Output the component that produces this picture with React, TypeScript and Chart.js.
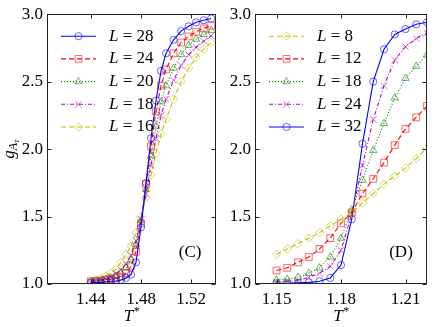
import React, { useEffect, useRef } from 'react';
import { Chart, registerables } from 'chart.js';
import { drawPoint } from 'chart.js/helpers';
Chart.register(...registerables);

// ---------- data ----------
const tC = [1.440, 1.444, 1.448, 1.452, 1.456, 1.460, 1.464, 1.468, 1.472, 1.476, 1.480, 1.484, 1.488, 1.492, 1.496, 1.500, 1.506, 1.512, 1.518, 1.524, 1.530, 1.536];
const gC28 = [1.01, 1.01, 1.012, 1.015, 1.018, 1.022, 1.03, 1.045, 1.07, 1.16, 1.42, 1.75, 2.08, 2.36, 2.58, 2.71, 2.81, 2.875, 2.91, 2.94, 2.955, 2.968];
const gC24 = [1.02, 1.022, 1.025, 1.03, 1.035, 1.042, 1.055, 1.08, 1.13, 1.24, 1.45, 1.74, 2.02, 2.28, 2.47, 2.59, 2.71, 2.79, 2.835, 2.87, 2.895, 2.915];
const gC20 = [1.015, 1.02, 1.025, 1.035, 1.045, 1.06, 1.085, 1.12, 1.18, 1.29, 1.47, 1.70, 1.95, 2.17, 2.35, 2.47, 2.60, 2.70, 2.77, 2.815, 2.85, 2.88];
const gC18 = [1.015, 1.02, 1.03, 1.04, 1.055, 1.075, 1.105, 1.15, 1.21, 1.32, 1.48, 1.67, 1.88, 2.08, 2.25, 2.37, 2.51, 2.62, 2.70, 2.755, 2.80, 2.84];
const gC16 = [1.02, 1.03, 1.04, 1.06, 1.08, 1.11, 1.16, 1.22, 1.28, 1.38, 1.50, 1.64, 1.81, 1.97, 2.11, 2.22, 2.37, 2.50, 2.60, 2.68, 2.74, 2.79];

const tD = [1.150, 1.155, 1.160, 1.165, 1.170, 1.175, 1.180, 1.185, 1.190, 1.195, 1.200, 1.205, 1.210, 1.215, 1.220];
const gD8 = [1.22, 1.26, 1.30, 1.34, 1.38, 1.43, 1.48, 1.53, 1.60, 1.67, 1.74, 1.80, 1.86, 1.93, 2.01];
const gD12 = [1.10, 1.12, 1.16, 1.20, 1.26, 1.34, 1.45, 1.53, 1.67, 1.78, 1.90, 2.03, 2.15, 2.235, 2.32];
const gD18 = [1.03, 1.035, 1.05, 1.08, 1.12, 1.20, 1.34, 1.55, 1.77, 1.99, 2.19, 2.38, 2.525, 2.615, 2.70];
const gD24 = [1.015, 1.02, 1.025, 1.05, 1.08, 1.13, 1.25, 1.52, 1.88, 2.22, 2.47, 2.66, 2.76, 2.82, 2.86];
const gD32 = [1.005, 1.005, 1.008, 1.012, 1.02, 1.045, 1.14, 1.48, 2.04, 2.50, 2.74, 2.85, 2.89, 2.925, 2.94];

const xTicksC = [1.44, 1.48, 1.52];
const xTicksD = [1.15, 1.18, 1.21];
const yTicks = [1.0, 1.5, 2.0, 2.5, 3.0];
const labelsC = ['28', '24', '20', '18', '16'];
const labelsD = ['8', '12', '18', '24', '32'];

// ---------- styles ----------
const FONT = '"Liberation Serif", "DejaVu Serif", serif';
const FS = 17;
const styles: Record<string, any> = {
  blue: { color: '#0000ff', mk: 'rgba(0,0,255,0.6)', dash: [], style: 'circle', r: 3.6 },
  red: { color: '#ff0000', mk: 'rgba(255,0,0,0.6)', dash: [5, 3], style: 'rect', r: 4.8 },
  green: { color: '#008000', mk: 'rgba(0,128,0,0.6)', dash: [1, 2], style: 'triangle', r: 4.2 },
  magenta: { color: '#bf00bf', mk: 'rgba(191,0,191,0.6)', dash: [4, 2, 1, 2], style: 'crossRot', r: 4.6 },
  yellow: { color: '#bfbf00', mk: 'rgba(191,191,0,0.6)', dash: [5, 3], style: 'rectRot', r: 4.2 },
};

function ds(label: string, t: number[], g: number[], key: string) {
  const s = styles[key];
  return {
    label,
    data: t.map((x, i) => ({ x, y: g[i] })),
    borderColor: s.color,
    borderWidth: 1.1,
    borderDash: s.dash,
    pointStyle: s.style,
    pointRadius: s.r,
    pointBorderColor: s.mk,
    pointBackgroundColor: 'rgba(0,0,0,0)',
    pointBorderWidth: 1,
    tension: 0,
    fill: false,
  };
}

const framePlugin = {
  id: 'frame',
  afterDatasetsDraw(chart: any, _args: any, opts: any) {
    const ctx = chart.ctx as CanvasRenderingContext2D;
    const a = chart.chartArea;
    const xs = chart.scales.x;
    const ys = chart.scales.y;
    ctx.save();
    // frame
    ctx.strokeStyle = '#222';
    ctx.lineWidth = 1;
    ctx.setLineDash([]);
    const L = Math.round(a.left) + 0.5, R = Math.round(a.right) - 0.5;
    const T = Math.round(a.top) + 0.5, B = Math.round(a.bottom) - 0.5;
    ctx.strokeRect(L, T, R - L, B - T);
    // inward ticks
    ctx.beginPath();
    for (const v of opts.xTicks) {
      const px = Math.round(xs.getPixelForValue(v)) + 0.5;
      ctx.moveTo(px, B); ctx.lineTo(px, B - 4);
      ctx.moveTo(px, T); ctx.lineTo(px, T + 4);
    }
    for (const v of yTicks) {
      const py = Math.round(ys.getPixelForValue(v)) + 0.5;
      ctx.moveTo(L, py); ctx.lineTo(L + 4, py);
      ctx.moveTo(R, py); ctx.lineTo(R - 4, py);
    }
    ctx.stroke();

    // legend
    ctx.fillStyle = '#000';
    ctx.textBaseline = 'middle';
    chart.data.datasets.forEach((d: any, i: number) => {
      const y = a.top + 22 + i * 22.7;
      const x0 = a.left + 14, x1 = a.left + 49;
      ctx.strokeStyle = d.borderColor;
      ctx.lineWidth = d.borderWidth;
      ctx.setLineDash(d.borderDash);
      ctx.beginPath(); ctx.moveTo(x0, y); ctx.lineTo(x1, y); ctx.stroke();
      ctx.setLineDash([]);
      ctx.strokeStyle = d.pointBorderColor;
      ctx.fillStyle = 'rgba(0,0,0,0)';
      ctx.lineWidth = 1;
      drawPoint(ctx, { pointStyle: d.pointStyle, radius: d.pointRadius, borderWidth: 1, rotation: 0 } as any, (x0 + x1) / 2, y);
      ctx.fillStyle = '#000';
      let tx = a.left + 62;
      ctx.font = `italic ${FS}px ${FONT}`;
      ctx.textAlign = 'left';
      ctx.fillText('L', tx, y);
      tx += ctx.measureText('L').width;
      ctx.font = `${FS}px ${FONT}`;
      ctx.fillText(' = ' + d.label, tx, y);
    });

    // panel letter
    ctx.font = `${FS}px ${FONT}`;
    ctx.textAlign = 'center';
    ctx.textBaseline = 'middle';
    ctx.fillText(opts.letter, a.right - 26, a.bottom - 31);

    // x title T*
    const cx = (a.left + a.right) / 2;
    ctx.textAlign = 'left';
    ctx.textBaseline = 'alphabetic';
    ctx.font = `italic ${FS}px ${FONT}`;
    const wT = ctx.measureText('T').width;
    ctx.font = `${12}px ${FONT}`;
    const wS = ctx.measureText('*').width;
    const sx = cx - (wT + wS) / 2;
    ctx.font = `italic ${FS}px ${FONT}`;
    ctx.fillText('T', sx, 321);
    ctx.font = `${12}px ${FONT}`;
    ctx.fillText('*', sx + wT + 0.5, 315);

    // y title
    if (opts.yTitle) {
      ctx.save();
      ctx.translate(14, (a.top + a.bottom) / 2);
      ctx.rotate(-Math.PI / 2);
      ctx.font = `italic ${FS}px ${FONT}`;
      const wg = ctx.measureText('g').width;
      ctx.font = `italic 12px ${FONT}`;
      const wA = ctx.measureText('A').width;
      ctx.font = `italic 9px ${FONT}`;
      const wt = ctx.measureText('τ').width;
      const tot = wg + wA + wt;
      let px = -tot / 2;
      ctx.font = `italic ${FS}px ${FONT}`;
      ctx.fillText('g', px, 0);
      px += wg;
      ctx.font = `italic 12px ${FONT}`;
      ctx.fillText('A', px, 3);
      px += wA;
      ctx.font = `italic 9px ${FONT}`;
      ctx.fillText('τ', px, 5);
      ctx.restore();
    }
    ctx.restore();
  },
};

function makeConfig(datasets: any[], xmin: number, xmax: number, xTicks: number[], yWidth: number, padRight: number, letter: string, yTitle: boolean): any {
  return {
    type: 'line',
    data: { datasets },
    plugins: [framePlugin],
    options: {
      responsive: false,
      animation: false,
      devicePixelRatio: 1,
      layout: { padding: { left: 0, top: 13, right: padRight, bottom: 0 } },
      plugins: {
        legend: { display: false },
        tooltip: { enabled: false },
        frame: { xTicks, letter, yTitle },
      },
      scales: {
        x: {
          type: 'linear',
          min: xmin,
          max: xmax,
          afterBuildTicks: (s: any) => { s.ticks = xTicks.map((v) => ({ value: v })); },
          afterFit: (s: any) => { s.height = 43; },
          grid: { display: false, drawTicks: false },
          border: { display: false },
          ticks: {
            autoSkip: false,
            maxRotation: 0,
            padding: 5,
            color: '#000',
            font: { family: FONT, size: FS },
            callback: (v: any) => Number(v).toFixed(2),
          },
        },
        y: {
          type: 'linear',
          min: 1.0,
          max: 3.0,
          afterBuildTicks: (s: any) => { s.ticks = yTicks.map((v) => ({ value: v })); },
          afterFit: (s: any) => { s.width = yWidth; },
          grid: { display: false, drawTicks: false },
          border: { display: false },
          ticks: {
            padding: 4,
            color: '#000',
            font: { family: FONT, size: FS },
            callback: (v: any) => Number(v).toFixed(1),
          },
        },
      },
    },
  };
}

function Panel(props: { cfg: any; left: number; width: number }) {
  const ref = useRef<HTMLCanvasElement>(null);
  useEffect(() => {
    const c = new Chart(ref.current as HTMLCanvasElement, props.cfg);
    return () => c.destroy();
  }, []);
  return (
    <canvas
      ref={ref}
      width={props.width}
      height={327}
      style={{ position: 'absolute', left: props.left, top: 0, width: props.width, height: 327 }}
    />
  );
}

export default function App() {
  const cfgC = makeConfig(
    [
      ds(labelsC[0], tC, gC28, 'blue'),
      ds(labelsC[1], tC, gC24, 'red'),
      ds(labelsC[2], tC, gC20, 'green'),
      ds(labelsC[3], tC, gC18, 'magenta'),
      ds(labelsC[4], tC, gC16, 'yellow'),
    ],
    1.405, 1.54, xTicksC, 47, 2, '(C)', true
  );
  const cfgD = makeConfig(
    [
      ds(labelsD[0], tD, gD8, 'yellow'),
      ds(labelsD[1], tD, gD12, 'red'),
      ds(labelsD[2], tD, gD18, 'green'),
      ds(labelsD[3], tD, gD24, 'magenta'),
      ds(labelsD[4], tD, gD32, 'blue'),
    ],
    1.14, 1.22, xTicksD, 37, 9, '(D)', false
  );
  return (
    <div style={{ position: 'fixed', left: 0, top: 0, width: 436, height: 327, background: '#fff' }}>
      <Panel cfg={cfgC} left={0} width={222} />
      <Panel cfg={cfgD} left={218} width={218} />
    </div>
  );
}
